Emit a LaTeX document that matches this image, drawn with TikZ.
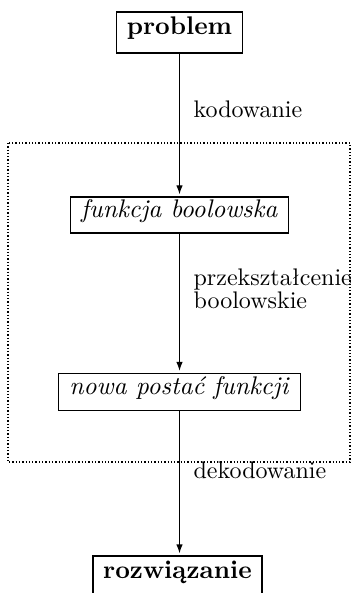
\documentclass[tikz,border=0pt]{standalone}
\usepackage{fontspec}
\setmainfont{lmroman10}[Extension=.otf, UprightFont=*-regular, BoldFont=*-bold, ItalicFont=*-italic, BoldItalicFont=*-bolditalic]
\usetikzlibrary{arrows.meta}
\begin{document}
\begin{tikzpicture}[x=1pt,y=-1pt, line width=1.2pt,
  box/.style={draw, inner sep=0pt, text height=0.72em, text depth=0.22em, font=\fontsize{25.5}{30}\selectfont},
  lab/.style={anchor=base west, inner sep=0pt, font=\fontsize{24}{28}\selectfont},
  arr/.style={-{Latex[length=9pt,width=6.5pt]}, shorten >=2pt},
  frame/.style={dash pattern=on 1.3pt off 2pt, line width=1.3pt}]
\useasboundingbox (0,0) rectangle (353,593);
\clip (0,0) rectangle (353,593);
\node[box, minimum width=126pt, minimum height=41pt] (p) at (179.5,32.5) {\textbf{problem}};
\node[box, minimum width=218pt, minimum height=36pt] (f) at (179.5,215) {\textit{funkcja boolowska}};
\node[box, minimum width=242pt, minimum height=37pt] (n) at (179.5,392) {\textit{nowa postać funkcji}};
\node[box, minimum width=169pt, minimum height=40pt] (r) at (177.5,576) {\textbf{rozwiązanie}};
\draw[frame] (8,143) rectangle (350,462);
\draw[arr] (p.south) -- (p.south |- f.north);
\draw[arr] (f.south) -- (f.south |- n.north);
\draw[arr] (n.south) -- (n.south |- r.north);
\node[lab] (l1) at (193,118) {kodowanie};
\node[lab] (l2) at (193,285) {przekształcenie};
\node[lab] (l3) at (193,308) {boolowskie};
\node[lab] (l4) at (193,478) {dekodowanie};
\end{tikzpicture}
\end{document}
